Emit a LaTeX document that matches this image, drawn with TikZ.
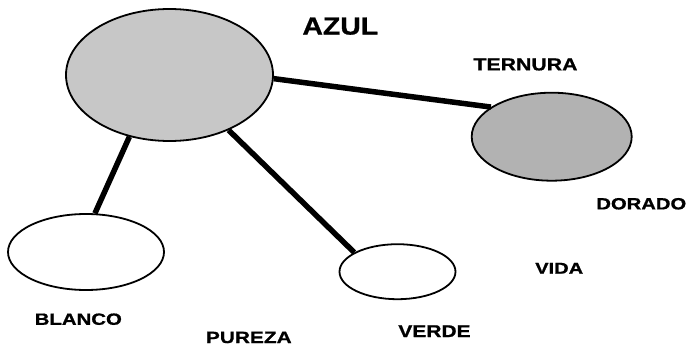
\documentclass[tikz,border=0pt]{standalone}
\usepackage{fontspec}
\setmainfont{Liberation Sans}
\newfontfamily\heavyfont[FakeBold=0.8]{Liberation Sans Bold}
\usetikzlibrary{shapes.geometric}
\newcommand{\lbl}[3]{\scalebox{#2}[1]{\fontsize{#1pt}{#1pt}\heavyfont #3}}
\begin{document}
\begin{tikzpicture}[x=1pt,y=-1pt,
  blob/.style={ellipse, draw=black, line width=1.8pt, inner sep=0pt},
  shadedblob/.style={blob, fill=black!22},
  darkblob/.style={blob, fill=black!30},
  link/.style={line width=5.5pt},
  word/.style={inner sep=0pt, anchor=center}]
\useasboundingbox (0,0) rectangle (688,345);
% ellipses
\node[shadedblob, minimum width=207pt, minimum height=132pt] (azulblob) at (169.5,75) {};
\node[darkblob, minimum width=160pt, minimum height=88pt] (ternurablob) at (551.7,136.7) {};
\node[blob, minimum width=156pt, minimum height=76pt] (blancoblob) at (86,252) {};
\node[blob, minimum width=116pt, minimum height=55pt] (verdeblob) at (397.5,271.7) {};
% connectors
\draw[link] (azulblob.-2.2) -- (ternurablob.154.9);
\draw[link] (azulblob.-123.2) -- (blancoblob.77.8);
\draw[link] (azulblob.-43.9) -- (verdeblob.156.6);
% labels
\node[word] (azul) at (340.3,26.2) {\lbl{24.7}{1.15}{AZUL}};
\node[word] (ternura) at (525.5,64.5) {\lbl{17.3}{1.23}{TERNURA}};
\node[word] (dorado) at (641.3,203.8) {\lbl{16.3}{1.24}{DORADO}};
\node[word] (vida) at (559.2,268.3) {\lbl{15.8}{1.27}{VIDA}};
\node[word] (verde) at (434.5,331.2) {\lbl{17.2}{1.22}{VERDE}};
\node[word] (blanco) at (78.3,319.2) {\lbl{16.3}{1.25}{BLANCO}};
\node[word] (pureza) at (248.8,337.5) {\lbl{16.3}{1.28}{PUREZA}};
\end{tikzpicture}
\end{document}
